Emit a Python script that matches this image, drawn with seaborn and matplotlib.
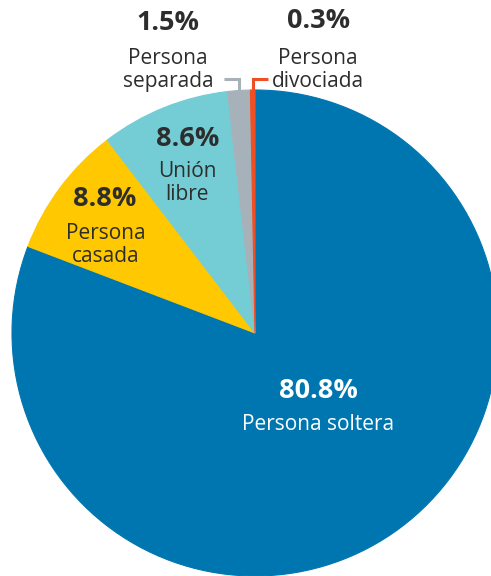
import numpy as np
import matplotlib.pyplot as plt
import seaborn as sns

sns.set_theme(style="white")
plt.rcParams["font.family"] = ["Open Sans", "DejaVu Sans"]

# Data
categories = ["Persona soltera", "Persona\ncasada", "Unión\nlibre", "Persona\nseparada", "Persona\ndivociada"]
shares = [80.8, 8.8, 8.6, 1.5, 0.3]
colors = ["#0076b0", "#ffc800", "#74cdd5", "#a7b1ba", "#f04e23"]

DARK = "#2d2d2d"

fig = plt.figure(figsize=(4.91, 5.76), dpi=100)
ax = fig.add_axes([0, 0, 1, 1])

wedges, _ = ax.pie(
    shares,
    colors=colors,
    startangle=90,
    counterclock=False,
    radius=1.0,
    wedgeprops={"linewidth": 0.8},
)
# Edge in the slice's own colour (avoids seams, widens the tiny slice a bit)
for w, c in zip(wedges, colors):
    w.set_edgecolor(c)

# Axis limits: pie centre sits at (255, 333) px with radius 243 px
ax.set_xlim(-255 / 243, (491 - 255) / 243)
ax.set_ylim((333 - 576) / 243, 333 / 243)
ax.set_aspect("auto")
ax.axis("off")


def px(x, y):
    """Pixel position in the figure -> data coords"""
    return (x - 255) / 243, (333 - y) / 243


# Labels inside the pie (value + category)
inside = {
    0: ((318, 391), (318, 425), "white"),
    1: ((105, 199), (106, 245), DARK),
    2: ((188, 139), (187, 183), DARK),
}
for i, (pval, pcat, col) in inside.items():
    ax.text(*px(*pval), f"{shares[i]}%", ha="center", va="center",
            fontsize=19.5, fontweight="bold", color=col)
    ax.text(*px(*pcat), categories[i], ha="center", va="center",
            fontsize=15, color=col, linespacing=1.15)

# Small slices: labels above the pie with elbow leader lines
outside = {
    3: ((168, 23), (168, 70), -1),
    4: ((319, 21), (318, 70), 1),
}
for i, (pval, pcat, side) in outside.items():
    w = wedges[i]
    mid = np.deg2rad((w.theta1 + w.theta2) / 2)
    x0, y0 = np.cos(mid), np.sin(mid)
    y1 = px(0, 79)[1]
    x2 = x0 + side * 15 / 243
    ax.plot([x0, x0, x2], [y0, y1, y1], color=colors[i], lw=2.2,
            solid_capstyle="butt", solid_joinstyle="miter", clip_on=False)
    ax.text(*px(*pval), f"{shares[i]}%", ha="center", va="center",
            fontsize=19.5, fontweight="bold", color=DARK)
    ax.text(*px(*pcat), categories[i], ha="center", va="center",
            fontsize=15, color=DARK, linespacing=1.15)

fig.savefig("out.png", dpi=100)
